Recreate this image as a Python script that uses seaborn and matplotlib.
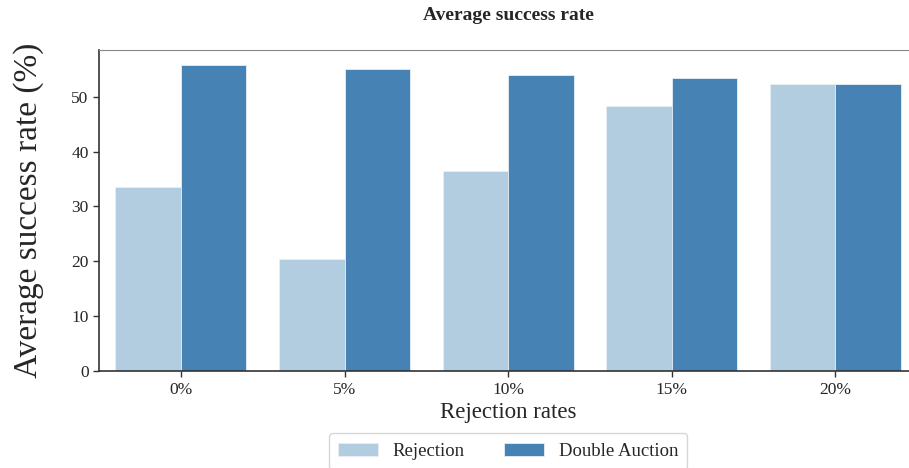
import pandas as pd
import numpy as np
import matplotlib
matplotlib.use('Agg')
import matplotlib.pyplot as plt
import seaborn as sns

rates = ['0%', '5%', '10%', '15%', '20%']
rejection = [33.5, 20.4, 36.5, 48.4, 52.3]
double_auction = [55.8, 55.0, 54.0, 53.4, 52.3]
methods = ['Rejection', 'Double Auction']
colors = ['#b3cde0', '#4682b4']

df = pd.DataFrame({
    'Rejection rates': rates * 2,
    'rate': rejection + double_auction,
    'Method': [methods[0]] * 5 + [methods[1]] * 5,
})

sns.set_style('ticks')
plt.rcParams['font.family'] = ['Liberation Serif', 'DejaVu Serif']

fig = plt.figure(figsize=(9.09, 4.68), dpi=100)
ax = fig.add_axes([0.109, 0.207, 0.9, 0.686])

sns.barplot(data=df, x='Rejection rates', y='rate', hue='Method',
            palette=colors, saturation=1, edgecolor='#e8eef4', linewidth=0.6, ax=ax)

ax.set_xlim(-0.5, 4.5)
ax.set_ylim(0, 58.5)
ax.set_yticks([0, 10, 20, 30, 40, 50])
ax.tick_params(axis='both', labelsize=12.5, length=4, width=1, color='#333333')
ax.set_xlabel('Rejection rates', fontsize=16.5, labelpad=3)
ax.set_ylabel('Average success rate (%)', fontsize=24, labelpad=20)
ax.set_title('Average success rate', fontsize=14, fontweight='bold', pad=22)

for s in ['left', 'bottom']:
    ax.spines[s].set_color('#333333')
    ax.spines[s].set_linewidth(1.2)
ax.spines['top'].set_color('#888888')
ax.spines['right'].set_visible(False)

ax.legend(loc='upper center', bbox_to_anchor=(0.5, -0.165), ncol=2, fontsize=13.5,
          frameon=True, handlelength=2.1, handleheight=0.7, columnspacing=2.1,
          borderpad=0.5)

fig.savefig('out.png', dpi=100)
